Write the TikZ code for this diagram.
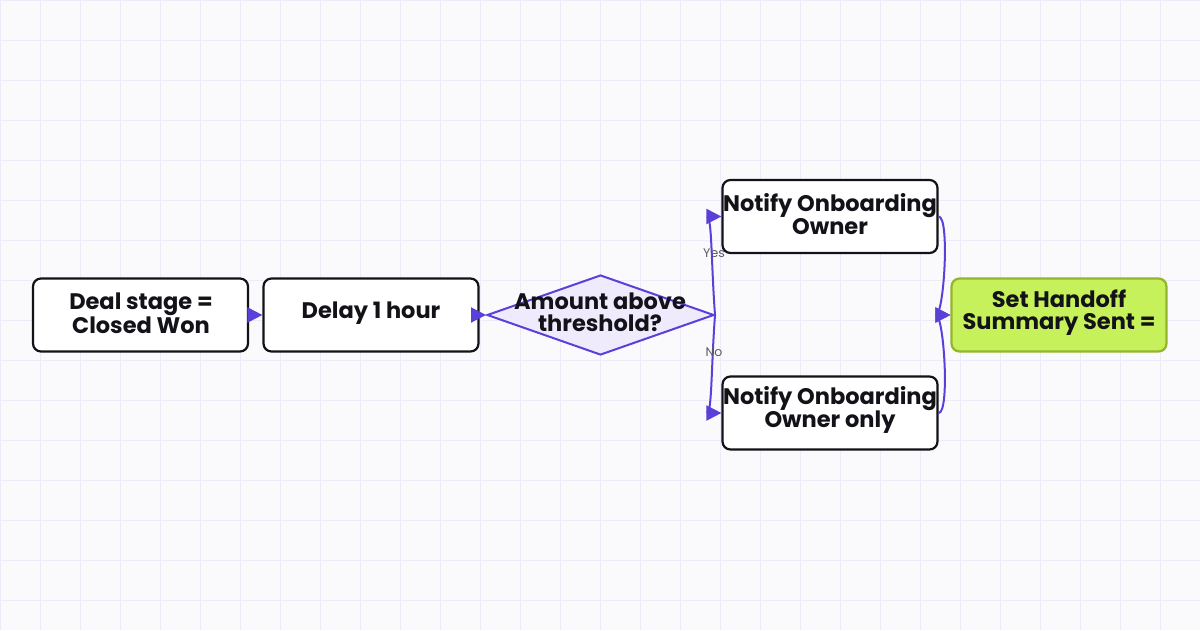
\documentclass[tikz,border=0pt]{standalone}
\usepackage{fontspec}
\setmainfont{Poppins}
\usetikzlibrary{arrows.meta,shapes.geometric}
\definecolor{bgc}{HTML}{FAFAFD}
\definecolor{gridc}{HTML}{EDEBF8}
\definecolor{purp}{HTML}{5B3FD9}
\definecolor{diaf}{HTML}{EFEBFC}
\definecolor{limef}{HTML}{C6F15B}
\definecolor{limed}{HTML}{92B52B}
\definecolor{txt}{HTML}{121218}
\definecolor{lab}{HTML}{5A5A64}
\tikzset{
  box/.style={draw=txt, line width=2.2pt, rounded corners=8pt, fill=white,
    minimum width=215pt, minimum height=73pt, inner sep=0pt},
  endbox/.style={box, draw=limed, fill=limef},
  dia/.style={diamond, draw=purp, fill=diaf, line width=2pt, inner sep=0pt,
    minimum width=227pt, minimum height=80pt},
  btxt/.style={font=\bfseries\fontsize{22.5}{22}\selectfont, text=txt, align=center, inner sep=0pt},
  edge/.style={draw=purp, line width=2pt, -{Triangle[length=15pt,width=15pt]}},
  elab/.style={font=\fontsize{12.5}{12.5}\selectfont, text=lab, inner sep=0pt}
}
\begin{document}
\begin{tikzpicture}[x=1pt,y=-1pt]
\useasboundingbox (0,0) rectangle (1200,630);
\fill[bgc] (0,0) rectangle (1200,630);
\foreach \i in {0,40,...,1200} \draw[gridc, line width=1pt] (\i,0) -- (\i,630);
\foreach \j in {0,40,...,600} \draw[gridc, line width=1pt] (0,\j) -- (1200,\j);

\node[box] (a) at (140.5,315) {};
\node[btxt] (at) at (141,313) {Deal stage =\\Closed Won};
\node[box] (b) at (371,315) {};
\node[btxt] (bt) at (371,313) {Delay 1 hour};
\node[dia] (q) at (600.5,315) {};
\node[btxt] (qt) at (600,312) {Amount above\\threshold?};
\node[box] (c) at (830,216.5) {};
\node[btxt] (ct) at (830,214) {Notify Onboarding\\Owner};
\node[box] (d) at (830,413) {};
\node[btxt] (dt) at (830,410) {Notify Onboarding\\Owner only};
\node[endbox] (e) at (1059,315) {};
\node[btxt] (et) at (1059,313) {Set Handoff\\Summary Sent =};

\draw[edge] (a.east) -- (b.west);
\draw[edge] (b.east) -- (q.west);
\draw[edge] (q.east) .. controls (711,260) and (712,216.5) .. (c.west);
\draw[edge] (q.east) .. controls (711,370) and (712,413) .. (d.west);
\draw[edge] (c.east) .. controls (950,216.5) and (944,315) .. (e.west);
\draw[edge] (d.east) .. controls (950,413) and (944,315) .. (e.west);

\node[elab] (ly) at (714,253) {Yes};
\node[elab] (ln) at (714,352) {No};
\end{tikzpicture}
\end{document}
